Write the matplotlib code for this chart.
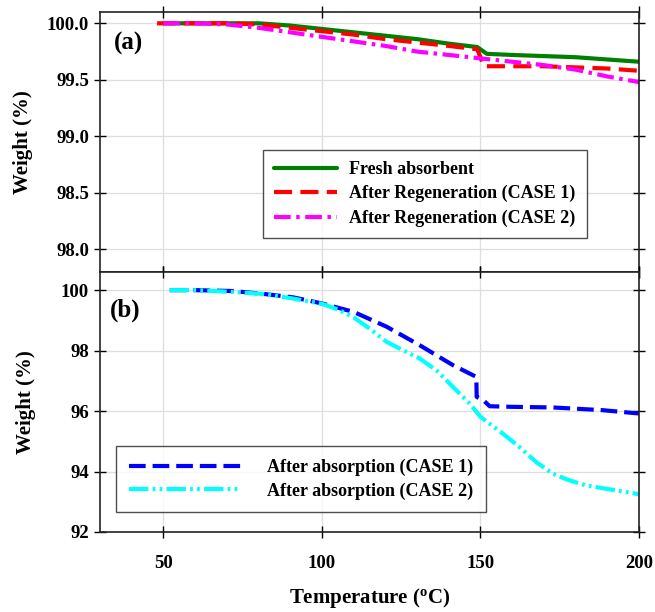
import matplotlib
matplotlib.use("Agg")
import matplotlib.pyplot as plt

plt.rcParams['font.family'] = ['Liberation Serif', 'DejaVu Serif']
plt.rcParams['font.weight'] = 'bold'
plt.rcParams['mathtext.fontset'] = 'custom'
plt.rcParams['mathtext.rm'] = 'Liberation Serif:bold'
plt.rcParams['mathtext.bf'] = 'Liberation Serif:bold'
plt.rcParams['mathtext.it'] = 'Liberation Serif:bold'
plt.rcParams['lines.scale_dashes'] = False

# ---- Data: panel (a) ----
t_fresh = [50, 60, 70, 80, 85, 90, 100, 110, 120, 130, 140, 149, 150, 152, 160, 170, 180, 190, 200]
w_fresh = [100.0, 100.0, 100.0, 100.0, 99.99, 99.98, 99.95, 99.92, 99.89, 99.86, 99.82, 99.79, 99.77,
           99.73, 99.72, 99.71, 99.70, 99.68, 99.66]

t_reg1 = [48, 60, 70, 80, 90, 100, 110, 120, 130, 140, 149, 150, 151, 160, 170, 180, 190, 200]
w_reg1 = [100.0, 100.0, 100.0, 99.99, 99.96, 99.93, 99.90, 99.86, 99.83, 99.80, 99.77, 99.70, 99.62,
          99.62, 99.62, 99.61, 99.60, 99.58]

t_reg2 = [50, 60, 70, 80, 90, 100, 110, 120, 130, 140, 150, 160, 170, 180, 190, 200]
w_reg2 = [100.0, 100.0, 99.99, 99.96, 99.92, 99.88, 99.84, 99.80, 99.75, 99.72, 99.69, 99.66, 99.63,
          99.59, 99.53, 99.48]

# ---- Data: panel (b) ----
t_abs1 = [52, 60, 72, 82, 91, 100, 110, 120.4, 130.8, 141.3, 148.7, 148.8, 150.8, 152.9, 160, 172.8,
          188.5, 200]
w_abs1 = [100.0, 100.0, 99.97, 99.87, 99.76, 99.56, 99.28, 98.79, 98.18, 97.52, 97.13, 96.47, 96.37,
          96.16, 96.14, 96.12, 96.03, 95.92]

t_abs2 = [52, 60, 72, 82, 91, 100, 105, 110, 115, 120.4, 125.6, 130.8, 136.1, 141.3, 146.6, 150, 157.1,
          162.3, 167.5, 172.8, 178, 183.3, 193.7, 200]
w_abs2 = [100.0, 100.0, 99.94, 99.87, 99.72, 99.55, 99.36, 99.10, 98.73, 98.29, 98.01, 97.74, 97.35,
          96.80, 96.25, 95.81, 95.25, 94.81, 94.32, 93.93, 93.71, 93.54, 93.36, 93.25]

labels_a = ['Fresh absorbent', 'After Regeneration (CASE 1)', 'After Regeneration (CASE 2)']
labels_b = ['After absorption (CASE 1)', 'After absorption (CASE 2)']
xticks = [50, 100, 150, 200]
yticks_a = [98.0, 98.5, 99.0, 99.5, 100.0]
yticks_b = [92, 94, 96, 98, 100]

W, H = 655, 612
fig = plt.figure(figsize=(W / 100, H / 100), dpi=100)
L, R = 100 / W, 639 / W
ax1 = fig.add_axes([L, 1 - 272 / H, R - L, 260 / H])
ax2 = fig.add_axes([L, 1 - 532 / H, R - L, 260 / H])

lw = 3.0
ax1.plot(t_fresh, w_fresh, color='#008000', lw=lw, solid_capstyle='round', label=labels_a[0])
ax1.plot(t_reg1, w_reg1, color='#ff0000', lw=lw, dashes=(13, 6), label=labels_a[1])
ax1.plot(t_reg2, w_reg2, color='#ff00ff', lw=lw, dashes=(12, 4, 2.5, 4), label=labels_a[2])

ax2.plot(t_abs1, w_abs1, color='#0000ff', lw=lw, dashes=(12, 5), label=labels_b[0])
ax2.plot(t_abs2, w_abs2, color='#00ffff', lw=lw, dashes=(14, 3, 2, 3, 2, 3), label=labels_b[1])

for ax in (ax1, ax2):
    ax.set_xlim(30, 200)
    ax.set_xticks(xticks)
    ax.grid(True, color='#dedede', lw=0.9)
    ax.set_axisbelow(True)
    ax.tick_params(direction='inout', length=9, width=1.0, top=True, right=True,
                   labelsize=13.5, colors='black')
    for s in ax.spines.values():
        s.set_color('#222222')
        s.set_linewidth(1.2)
    for lab in ax.get_xticklabels() + ax.get_yticklabels():
        lab.set_fontweight('bold')

ax1.set_ylim(97.8, 100.1)
ax1.set_yticks(yticks_a)
ax1.set_yticklabels([f'{v:.1f}' for v in yticks_a])
ax1.tick_params(labelbottom=False)

ax2.set_ylim(92, 100.6)
ax2.set_yticks(yticks_b)
ax2.set_yticklabels([str(v) for v in yticks_b])
ax2.tick_params(axis='x', pad=12)

ax1.set_ylabel('Weight (%)', fontsize=15, fontweight='bold', labelpad=10)
ax2.set_ylabel('Weight (%)', fontsize=15, fontweight='bold', labelpad=18)
ax2.set_xlabel(r'Temperature ($^{\mathrm{o}}$C)', fontsize=15, fontweight='bold', labelpad=10)

ax1.text(0.025, 0.855, '(a)', transform=ax1.transAxes, fontsize=18, fontweight='bold')
ax2.text(0.018, 0.83, '(b)', transform=ax2.transAxes, fontsize=18, fontweight='bold')

leg1 = ax1.legend(loc='upper left', bbox_to_anchor=(0.302, 0.469), fontsize=13, frameon=True,
                  fancybox=False, edgecolor='#222222', handlelength=3.5, handletextpad=0.7,
                  labelspacing=0.4, borderpad=0.6, borderaxespad=0)
leg1.get_frame().set_linewidth(1.0)
leg2 = ax2.legend(loc='upper left', bbox_to_anchor=(0.030, 0.331), fontsize=13, frameon=True,
                  fancybox=False, edgecolor='#222222', handlelength=6.2, handletextpad=1.45,
                  labelspacing=0.35, borderpad=0.7, borderaxespad=0)
leg2.get_frame().set_linewidth(1.0)
for leg in (leg1, leg2):
    for t in leg.get_texts():
        t.set_fontweight('bold')

fig.savefig('out.png', dpi=100)
